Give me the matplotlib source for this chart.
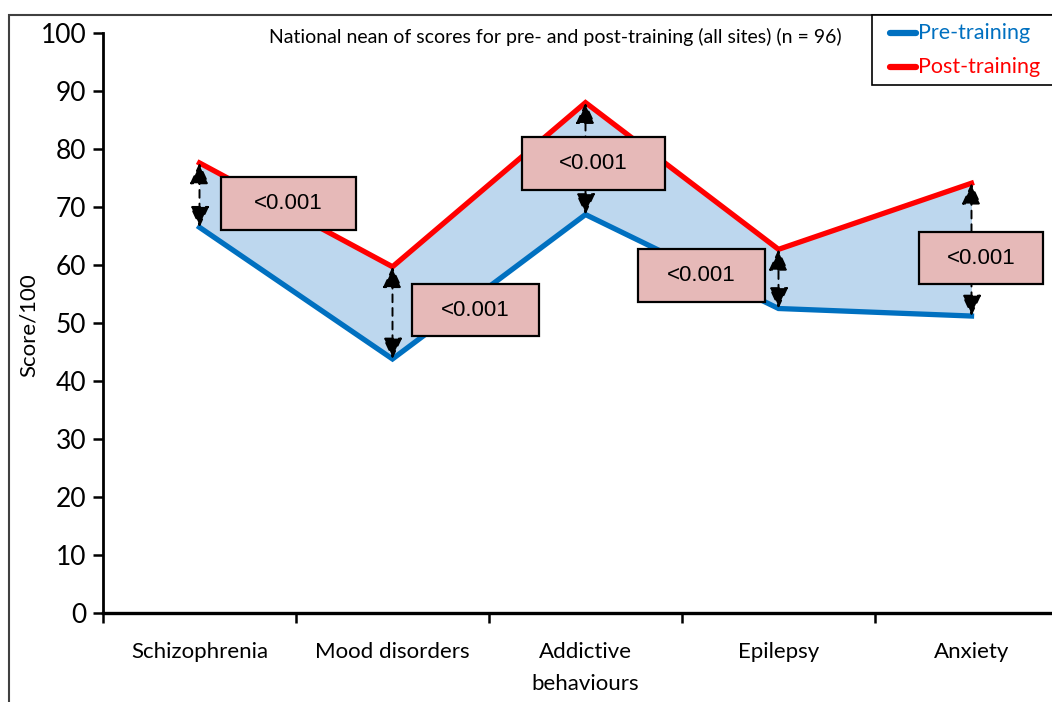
import matplotlib.pyplot as plt
from matplotlib.patches import Rectangle
from matplotlib.lines import Line2D

# datos
categorias = ["Schizophrenia", "Mood disorders", "Addictive\nbehaviours", "Epilepsy", "Anxiety"]
pre = [66.5, 43.8, 68.7, 52.5, 51.2]
post = [77.6, 59.7, 88.0, 62.7, 74.1]
p_valores = ["<0.001", "<0.001", "<0.001", "<0.001", "<0.001"]

# layout de las cajas (offset x respecto a la categoria, centro y)
caja_dx = [0.46, 0.43, 0.04, -0.40, 0.05]
caja_y = [70.6, 52.2, 77.5, 58.2, 61.2]
caja_w = [0.70, 0.66, 0.74, 0.66, 0.64]
caja_h = 9.0

azul = "#0070C0"
rojo = "#FF0000"
relleno = "#BDD7EE"
caja_color = "#E6B9B8"

fig = plt.figure(figsize=(10.52, 7.02), dpi=100)
ax = fig.add_axes([103 / 1052, 89 / 702, 965 / 1052, 580 / 702])

x = list(range(len(categorias)))
ax.fill_between(x, pre, post, color=relleno, zorder=1, linewidth=0)
ax.plot(x, pre, color=azul, linewidth=3.8, zorder=3, solid_joinstyle="miter")
ax.plot(x, post, color=rojo, linewidth=3.8, zorder=3, solid_joinstyle="miter")

# flechas punteadas
for i in x:
    ax.annotate("", xy=(i, post[i]), xytext=(i, pre[i]),
                arrowprops=dict(arrowstyle="<|-|>,head_length=1.3,head_width=0.6",
                                color="black", linestyle=(0, (4, 3)), linewidth=1.4,
                                shrinkA=0, shrinkB=0), zorder=4)

# cajas con p-valores
for i in x:
    cx = i + caja_dx[i]
    r = Rectangle((cx - caja_w[i] / 2, caja_y[i] - caja_h / 2), caja_w[i], caja_h,
                  facecolor=caja_color, edgecolor="black", linewidth=1.6, zorder=5)
    ax.add_patch(r)
    ax.text(cx, caja_y[i], p_valores[i], ha="center", va="center", fontsize=16,
            family="Liberation Sans", zorder=6)

ax.set_xlim(-0.5, 4.5)
ax.set_ylim(0, 100)
ax.set_yticks(range(0, 101, 10))
ax.set_xticks([-0.5, 0.5, 1.5, 2.5, 3.5, 4.5])
ax.set_xticklabels([])
ax.set_xticks(x, minor=True)
ax.set_xticklabels(categorias, minor=True, fontsize=16, family="Lato", linespacing=1.75)
ax.tick_params(axis="x", which="minor", length=0, pad=21)
ax.tick_params(axis="x", which="major", length=7, width=1.8, direction="out")
ax.tick_params(axis="y", length=7, width=1.8, labelsize=19, pad=5)
for lbl in ax.get_yticklabels():
    lbl.set_family("Lato")

for s in ["top", "right"]:
    ax.spines[s].set_visible(False)
ax.spines["left"].set_linewidth(2)
ax.spines["bottom"].set_linewidth(2.4)

fig.text(29 / 1052, 1 - 325 / 702, "Score/100", rotation=90, ha="center", va="center",
         fontsize=16, family="Lato")
fig.text(555 / 1052, 1 - 37 / 702,
         "National nean of scores for pre- and post-training (all sites) (n = 96)",
         ha="center", va="center", fontsize=14, family="Lato")

# marco exterior
fig.add_artist(Rectangle((9 / 1052, -0.1), 1.2, 1 - 15 / 702 + 0.1, transform=fig.transFigure,
                         fill=False, edgecolor="#404040", linewidth=1.5))

# leyenda
fig.add_artist(Rectangle((872 / 1052, 1 - 85 / 702), 0.3, 70 / 702, transform=fig.transFigure,
                         facecolor="white", edgecolor="black", linewidth=1.2))
for yy, col, txt in [(33, azul, "Pre-training"), (67, rojo, "Post-training")]:
    fy = 1 - yy / 702
    fig.add_artist(Line2D([890 / 1052, 916 / 1052], [fy, fy], transform=fig.transFigure,
                          color=col, linewidth=4.5, solid_capstyle="round"))
    fig.text(918 / 1052, fy, txt, color=col, fontsize=15.5, family="Lato",
             ha="left", va="center")

plt.savefig("out.png", dpi=100)
